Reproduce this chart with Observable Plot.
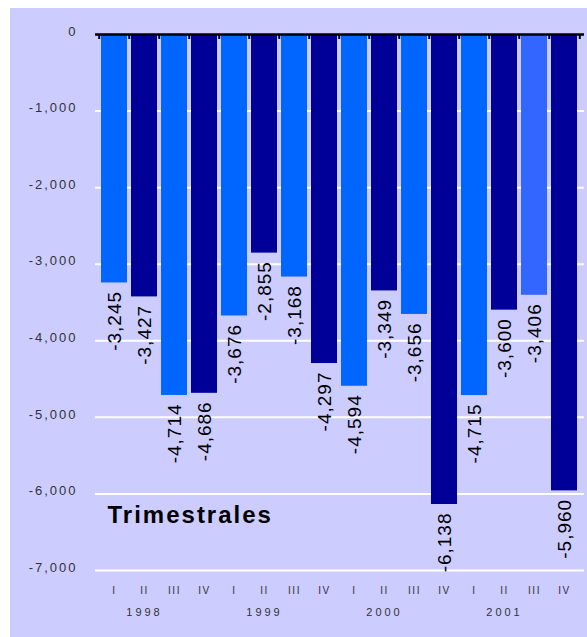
<!DOCTYPE html>
<html><head><meta charset="utf-8">
<script src="https://cdn.jsdelivr.net/npm/d3@7"></script>
<script src="https://cdn.jsdelivr.net/npm/@observablehq/plot@0.6"></script>
<style>
body{margin:0;background:#fff;}
#chart{position:absolute;left:10px;top:8px;}
#chart svg{display:block;}
</style></head><body><div id="chart"></div>
<script>
const years = ["1998","1999","2000","2001"];
const quarters = ["I","II","III","IV"];
const values = [-3245,-3427,-4714,-4686, -3676,-2855,-3168,-4297, -4594,-3349,-3656,-6138, -4715,-3600,-3406,-5960];
const tones = ["light","dark","light","dark", "light","dark","light","dark", "light","dark","light","dark", "light","dark","mid","dark"];
const yTicks = [0,-1000,-2000,-3000,-4000,-5000,-6000,-7000];
const title = "Trimestrales";

const rows = values.map((v,i)=>({
  key: years[Math.floor(i/4)] + "-" + quarters[i%4],
  year: years[Math.floor(i/4)],
  q: quarters[i%4],
  value: v,
  tone: tones[i]
}));
const keys = rows.map(d=>d.key);
const fmt = d => d.toLocaleString("en-US");

const W = 577, H = 629, mL = 85, mR = 3, mT = 26, mB = 67;
const step = (W - mL - mR) / keys.length;

const svg = Plot.plot({
  width: W, height: H,
  marginLeft: mL, marginRight: mR, marginTop: mT, marginBottom: mB,
  style: {background: "#CCCCFF", fontFamily: "Arial, 'Liberation Sans', sans-serif"},
  x: {domain: keys, paddingInner: 0.12, paddingOuter: 0.06, axis: null},
  y: {domain: [-7000, 0], axis: null},
  color: {domain: ["light","dark","mid"], range: ["#0066FF","#000099","#3366FF"]},
  marks: [
    Plot.ruleY(yTicks.filter(d => d !== 0), {stroke: "white", strokeWidth: 2}),
    Plot.barY(rows, {x: "key", y: "value", fill: "tone"}),
    Plot.ruleY([0], {stroke: "black", strokeWidth: 2.5}),
    Plot.ruleX(keys, {x: d => d, y1: 0, y2: 0, insetBottom: -5, dx: -step/2, stroke: "black", strokeWidth: 2}),
    Plot.ruleX([keys[keys.length-1]], {x: d => d, y1: 0, y2: 0, insetBottom: -5, dx: step/2, stroke: "black", strokeWidth: 2}),
    Plot.axisY(yTicks, {tickSize: 0, tickPadding: 18, tickFormat: fmt, fontSize: 13, dy: -3, label: null}),
    Plot.axisX(keys, {tickSize: 0, tickPadding: 16, tickFormat: k => k.split("-")[1], fontSize: 10, label: null}),
    Plot.axisX(keys.filter(k => k.endsWith("-II")), {tickSize: 0, tickPadding: 38, tickFormat: k => k.split("-")[0], fontSize: 11, label: null}),
    Plot.text(rows, {x: "key", y: "value", text: d => fmt(d.value), rotate: -90, textAnchor: "end", dy: 8, fontSize: 19, fill: "black"}),
    Plot.text([title], {frameAnchor: "bottom-left", dx: 12, dy: -48, lineAnchor: "bottom", textAnchor: "start", fontSize: 24, fontWeight: "bold", fill: "black"})
  ]
});
const s = d3.select(svg);
s.selectAll('g[aria-label="y-axis tick label"]').attr("fill", "#333").selectAll("text").attr("letter-spacing", 2);
const xl = s.selectAll('g[aria-label="x-axis tick label"]').nodes();
if (xl[0]) d3.select(xl[0]).attr("fill", "#333").selectAll("text").attr("letter-spacing", 1.5);
if (xl[1]) d3.select(xl[1]).attr("fill", "#333").selectAll("text").attr("letter-spacing", 3);
const tg = s.selectAll('g[aria-label="text"]').nodes();
if (tg[0]) d3.select(tg[0]).selectAll("text").attr("letter-spacing", 1);
if (tg[1]) d3.select(tg[1]).selectAll("text").attr("letter-spacing", 2);
document.getElementById("chart").appendChild(svg);
</script></body></html>
